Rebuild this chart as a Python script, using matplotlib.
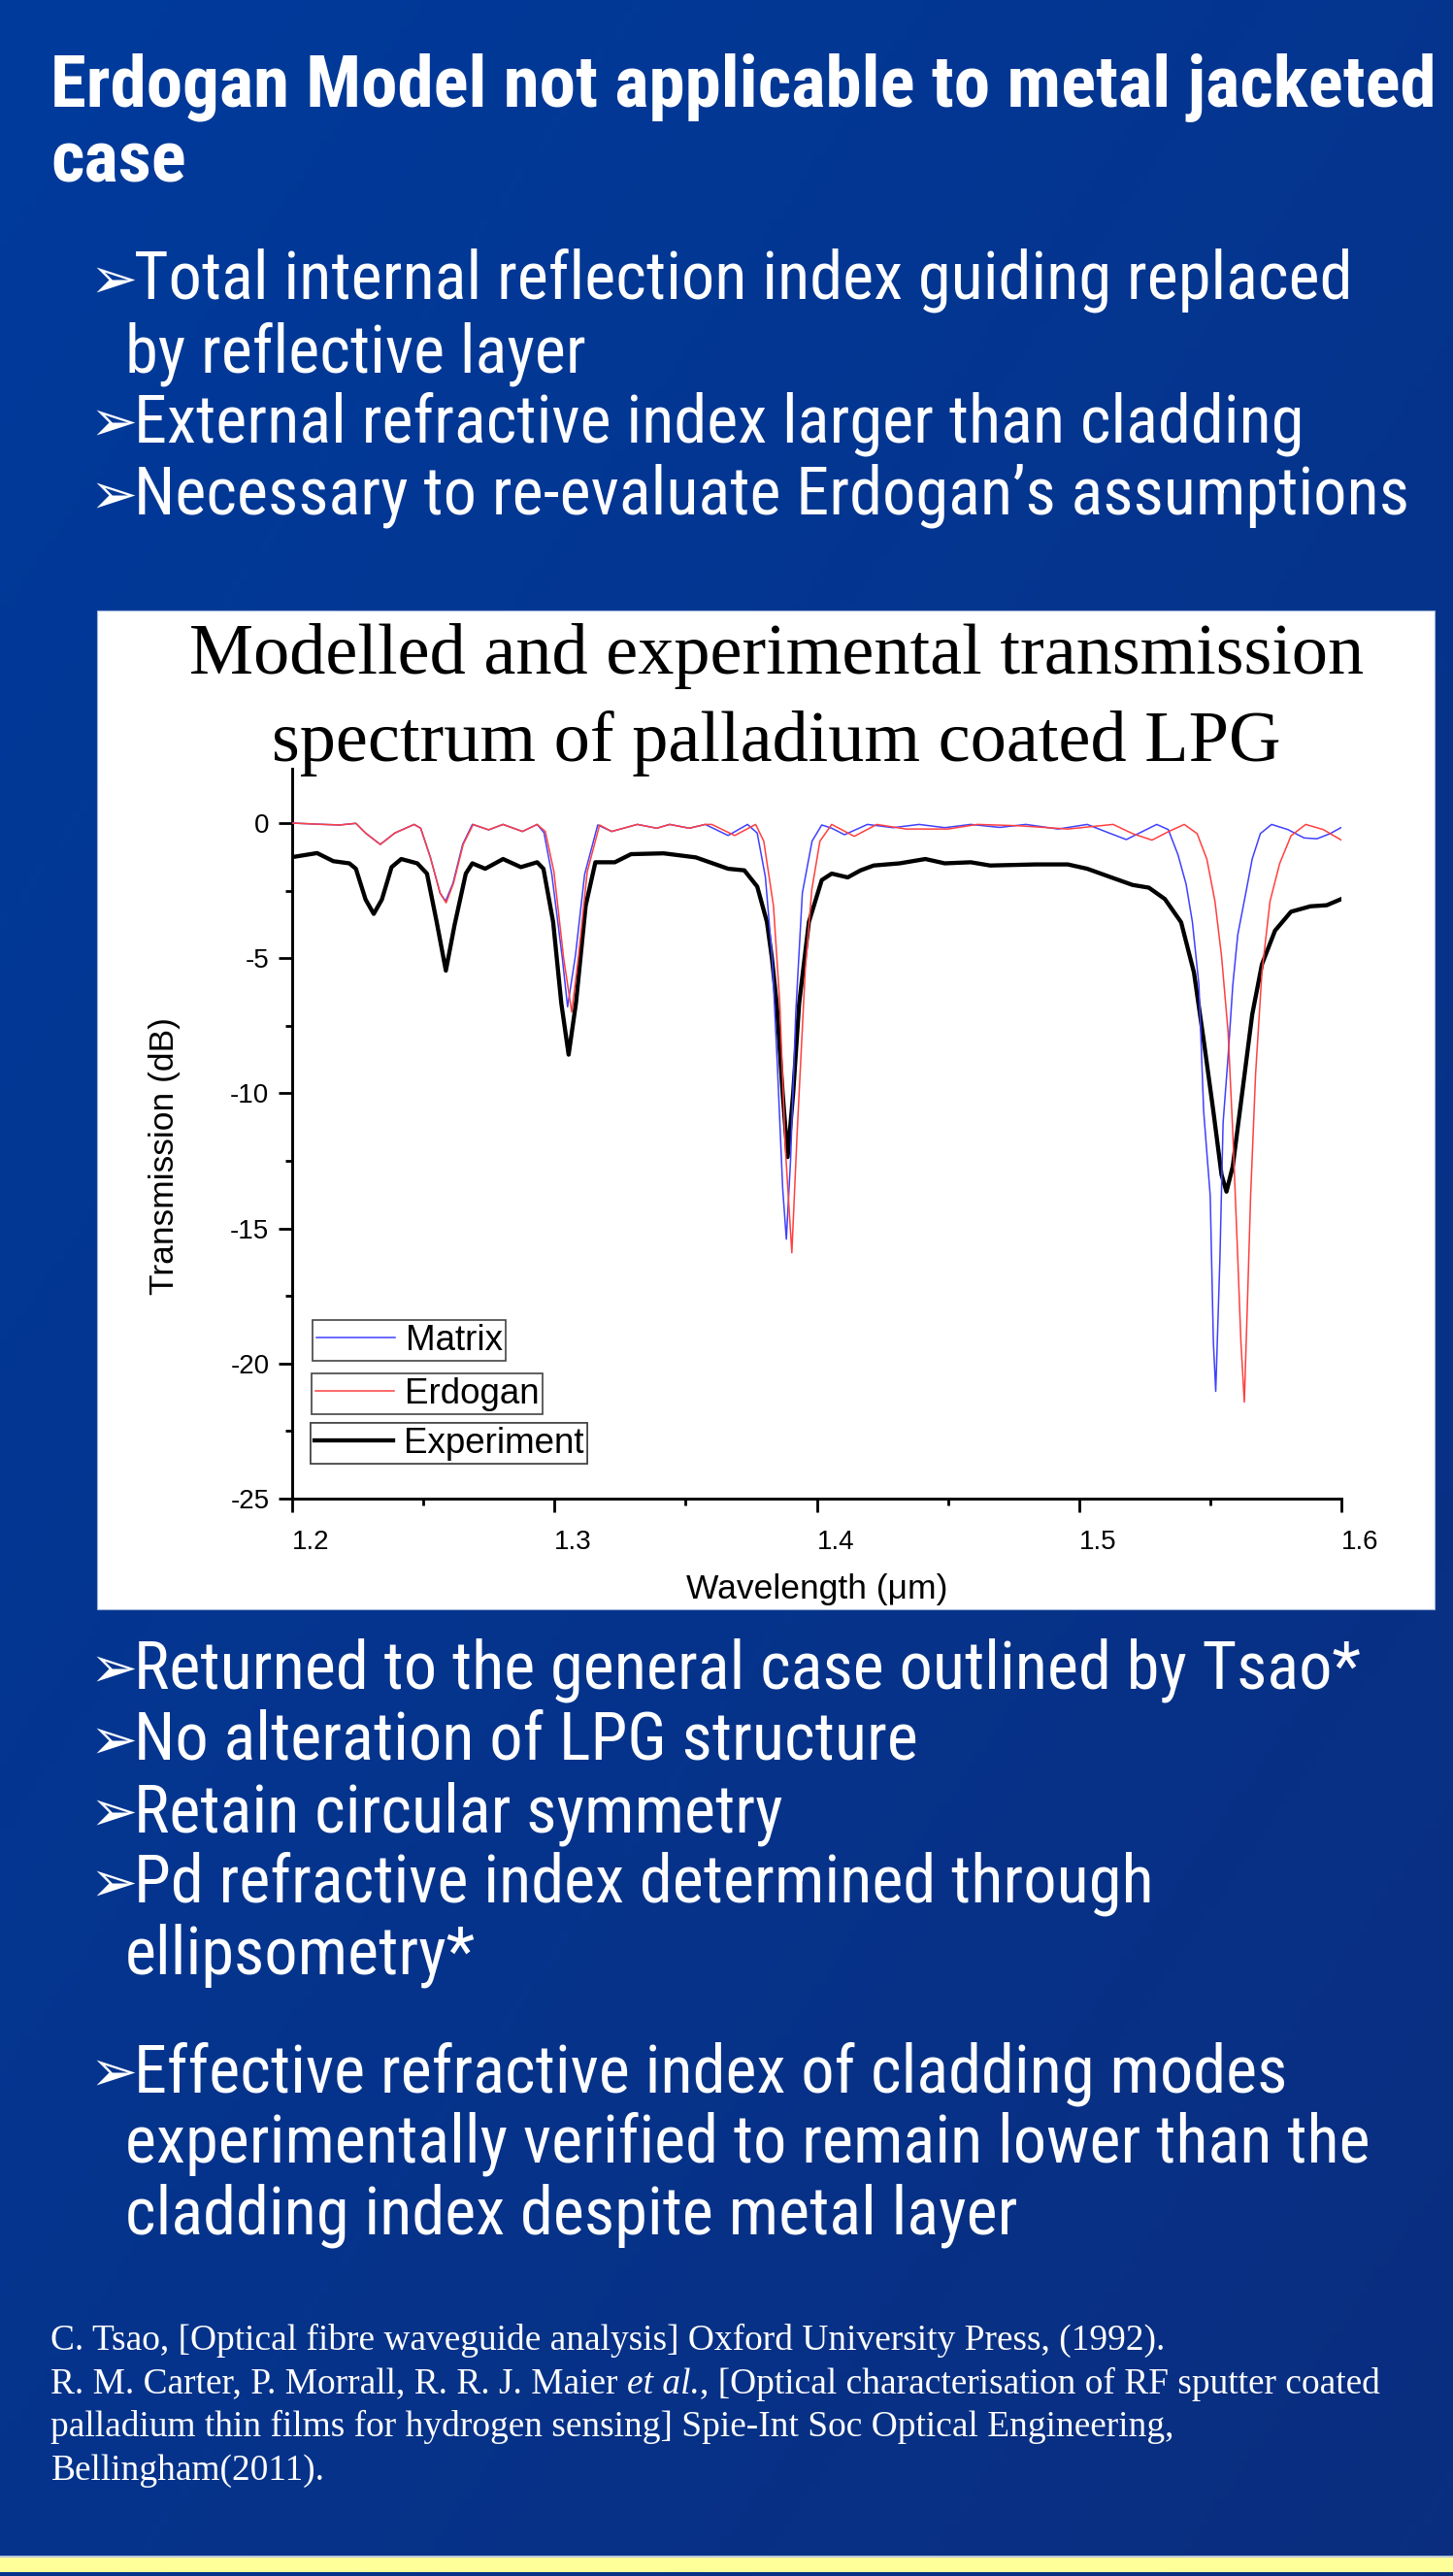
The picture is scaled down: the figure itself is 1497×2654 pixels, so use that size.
import numpy as np
import matplotlib
matplotlib.use("Agg")
import matplotlib.pyplot as plt
from matplotlib import font_manager as fm
from matplotlib.patches import Rectangle
from matplotlib.ticker import MultipleLocator, FixedLocator

# ---------------- data ----------------
wl_matrix = [1.2000, 1.2120, 1.2181, 1.2243, 1.2280, 1.2336, 1.2391, 1.2465, 1.2490, 1.2527,
             1.2564, 1.2585, 1.2613, 1.2650, 1.2687, 1.2749, 1.2804, 1.2878, 1.2934, 1.2960,
             1.2990, 1.3030, 1.3050, 1.3080, 1.3115, 1.3165, 1.3218, 1.3316, 1.3390, 1.3439,
             1.3514, 1.3575, 1.3662, 1.3736, 1.3773, 1.3804, 1.3830, 1.3850, 1.3870, 1.3884,
             1.3900, 1.3920, 1.3945, 1.3982, 1.4019, 1.4057, 1.4106, 1.4193, 1.4291, 1.4390,
             1.4488, 1.4587, 1.4698, 1.4797, 1.4920, 1.5031, 1.5110, 1.5180, 1.5240, 1.5296,
             1.5340, 1.5377, 1.5408, 1.5432, 1.5457, 1.5475, 1.5500, 1.5512, 1.5521, 1.5537,
             1.5549, 1.5568, 1.5586, 1.5605, 1.5636, 1.5660, 1.5691, 1.5734, 1.5796, 1.5858,
             1.5907, 1.5957, 1.6000]
tr_matrix = [0.00, -0.05, -0.07, -0.01, -0.37, -0.79, -0.37, -0.05, -0.19, -1.27,
             -2.59, -2.89, -2.23, -0.79, -0.05, -0.25, -0.05, -0.31, -0.05, -0.35,
             -1.90, -5.00, -6.80, -4.90, -1.90, -0.07, -0.31, -0.05, -0.19, -0.05,
             -0.19, -0.05, -0.46, -0.05, -0.37, -1.99, -5.00, -9.00, -13.50, -15.40,
             -12.50, -7.00, -2.59, -0.67, -0.07, -0.19, -0.43, -0.05, -0.17, -0.05,
             -0.17, -0.05, -0.16, -0.05, -0.22, -0.05, -0.35, -0.61, -0.32, -0.05,
             -0.24, -1.17, -2.26, -3.66, -6.00, -10.67, -13.80, -19.20, -21.03, -16.10,
             -11.10, -8.65, -6.00, -4.13, -2.57, -1.33, -0.39, -0.05, -0.24, -0.55,
             -0.58, -0.39, -0.16]

wl_erdogan = [1.2000, 1.2120, 1.2181, 1.2243, 1.2280, 1.2336, 1.2391, 1.2465, 1.2490, 1.2527,
              1.2564, 1.2587, 1.2615, 1.2652, 1.2690, 1.2749, 1.2804, 1.2878, 1.2934, 1.2965,
              1.2998, 1.3035, 1.3066, 1.3092, 1.3125, 1.3172, 1.3218, 1.3316, 1.3390, 1.3439,
              1.3514, 1.3575, 1.3600, 1.3687, 1.3767, 1.3798, 1.3835, 1.3859, 1.3880, 1.3905,
              1.3925, 1.3956, 1.3981, 1.4012, 1.4057, 1.4143, 1.4229, 1.4340, 1.4500, 1.4612,
              1.4772, 1.4957, 1.5130, 1.5204, 1.5278, 1.5340, 1.5401, 1.5450, 1.5487, 1.5518,
              1.5543, 1.5568, 1.5586, 1.5605, 1.5617, 1.5630, 1.5642, 1.5654, 1.5673, 1.5697,
              1.5728, 1.5765, 1.5808, 1.5864, 1.5931, 1.6000]
tr_erdogan = [0.00, -0.05, -0.07, -0.01, -0.37, -0.79, -0.37, -0.05, -0.19, -1.27,
              -2.59, -2.95, -2.23, -0.79, -0.05, -0.25, -0.05, -0.31, -0.05, -0.31,
              -1.80, -5.00, -7.00, -4.90, -1.80, -0.07, -0.31, -0.05, -0.19, -0.05,
              -0.19, -0.05, -0.05, -0.46, -0.05, -0.67, -3.07, -6.66, -12.00, -15.90,
              -11.50, -5.46, -2.47, -0.67, -0.05, -0.49, -0.05, -0.22, -0.22, -0.05,
              -0.10, -0.22, -0.05, -0.39, -0.63, -0.32, -0.05, -0.39, -1.33, -2.89,
              -4.91, -7.72, -11.45, -16.10, -19.20, -21.43, -17.70, -13.80, -9.27, -5.53,
              -2.89, -1.49, -0.47, -0.05, -0.24, -0.63]

wl_experiment = [1.2000, 1.2095, 1.2157, 1.2218, 1.2243, 1.2280, 1.2311, 1.2342, 1.2379, 1.2416,
                 1.2477, 1.2514, 1.2551, 1.2586, 1.2619, 1.2662, 1.2687, 1.2736, 1.2804, 1.2872,
                 1.2934, 1.2958, 1.2995, 1.3026, 1.3054, 1.3082, 1.3119, 1.3156, 1.3230, 1.3292,
                 1.3416, 1.3539, 1.3662, 1.3724, 1.3773, 1.3810, 1.3829, 1.3847, 1.3870, 1.3889,
                 1.3910, 1.3933, 1.3970, 1.4019, 1.4057, 1.4118, 1.4167, 1.4217, 1.4316, 1.4414,
                 1.4488, 1.4587, 1.4661, 1.4834, 1.4957, 1.5031, 1.5117, 1.5204, 1.5266, 1.5327,
                 1.5389, 1.5438, 1.5475, 1.5512, 1.5543, 1.5562, 1.5586, 1.5623, 1.5660, 1.5697,
                 1.5747, 1.5808, 1.5882, 1.5944, 1.6000]
tr_experiment = [-1.26, -1.11, -1.41, -1.49, -1.69, -2.83, -3.36, -2.83, -1.63, -1.33,
                 -1.49, -1.87, -3.66, -5.46, -3.78, -1.87, -1.49, -1.69, -1.33, -1.63,
                 -1.45, -1.69, -3.66, -6.66, -8.57, -6.66, -3.06, -1.45, -1.45, -1.15,
                 -1.12, -1.27, -1.69, -1.75, -2.35, -3.66, -5.00, -6.66, -10.00, -12.36,
                 -10.00, -6.66, -3.66, -2.11, -1.87, -2.01, -1.75, -1.57, -1.49, -1.33,
                 -1.49, -1.45, -1.57, -1.53, -1.53, -1.69, -1.99, -2.29, -2.39, -2.81,
                 -3.67, -5.53, -8.03, -10.67, -13.01, -13.64, -12.70, -9.90, -7.09, -5.23,
                 -3.98, -3.28, -3.08, -3.04, -2.81]

series_labels = ["Matrix", "Erdogan", "Experiment"]
x_ticks = [1.2, 1.3, 1.4, 1.5, 1.6]
x_tick_labels = ["1.2", "1.3", "1.4", "1.5", "1.6"]
y_ticks = [0, -5, -10, -15, -20, -25]
y_tick_labels = ["0", "-5", "-10", "-15", "-20", "-25"]

chart_title = ["Modelled and experimental transmission", "spectrum of palladium coated LPG"]
x_label = "Wavelength (\u03bcm)"
y_label = "Transmission (dB)"

header_lines = ["Erdogan Model not applicable to metal jacketed", "case"]
top_bullets = [("Total internal reflection index guiding replaced", True),
               ("by reflective layer", False),
               ("External refractive index larger than cladding", True),
               ("Necessary to re-evaluate Erdogan\u2019s assumptions", True)]
bottom_bullets = [("Returned to the general case outlined by Tsao*", True),
                  ("No alteration of LPG structure", True),
                  ("Retain circular symmetry", True),
                  ("Pd refractive index determined through", True),
                  ("ellipsometry*", False),
                  ("Effective refractive index of cladding modes", True),
                  ("experimentally verified to remain lower than the", False),
                  ("cladding index despite metal layer", False)]
ref1 = "C. Tsao, [Optical fibre waveguide analysis] Oxford University Press, (1992)."
ref2a = "R. M. Carter, P. Morrall, R. R. J. Maier"
ref2b = "et al."
ref2c = ", [Optical characterisation of RF sputter coated"
ref3 = "palladium thin films for hydrogen sensing] Spie-Int Soc Optical Engineering,"
ref4 = "Bellingham(2011)."

# ---------------- figure ----------------
W, H = 1497, 2654
DPI = 100
fig = plt.figure(figsize=(W / DPI, H / DPI), dpi=DPI)
renderer = fig.canvas.get_renderer()


def fx(px):
    return px / W


def fy(py):
    return 1 - py / H


# background gradient
bg = fig.add_axes([0, 0, 1, 1], zorder=-10)
bg.set_axis_off()
g = np.linspace(0, 1, 200)
GX, GY = np.meshgrid(g, g)
tt = 0.45 * GX + 0.55 * GY
c0 = np.array([0.00, 0.23, 0.61])
c1 = np.array([0.04, 0.18, 0.50])
img = c0[None, None, :] + (c1 - c0)[None, None, :] * tt[..., None]
bg.imshow(img, extent=[0, 1, 0, 1], aspect="auto", origin="upper")
bg.set_xlim(0, 1)
bg.set_ylim(0, 1)

# white chart panel
fig.patches.append(Rectangle((fx(100), fy(1658)), fx(1478) - fx(100), fy(629) - fy(1658),
                             transform=fig.transFigure, facecolor="white",
                             edgecolor="#9fb4d8", lw=0.8, zorder=-5))
# yellow strip
fig.patches.append(Rectangle((0, fy(2650)), 1, fy(2634) - fy(2650),
                             transform=fig.transFigure, facecolor="#ffff99",
                             edgecolor="none", zorder=-5))
fig.patches.append(Rectangle((0, fy(2634.5)), 1, fy(2633) - fy(2634.5),
                             transform=fig.transFigure, facecolor="#b8c6dc",
                             edgecolor="none", zorder=-5))

# ---------------- chart ----------------
ax_l, ax_r = 301, 1382
y_top_val = 2.0
px_per_db = (1544 - 848) / 25.0
ax_top_px = 848 - y_top_val * px_per_db
ax = fig.add_axes([fx(ax_l), fy(1544), fx(ax_r) - fx(ax_l), fy(ax_top_px) - fy(1544)])
ax.patch.set_alpha(0)

BLUE = "#4040ff"
RED = "#ff4040"
l_m, = ax.plot(wl_matrix, tr_matrix, color=BLUE, lw=1.1, label=series_labels[0], zorder=3)
l_e, = ax.plot(wl_erdogan, tr_erdogan, color=RED, lw=1.1, label=series_labels[1], zorder=4)
l_x, = ax.plot(wl_experiment, tr_experiment, color="black", lw=3.1, label=series_labels[2], zorder=2)

ax.set_xlim(1.2, 1.6)
ax.set_ylim(-25, y_top_val)
for s in ["top", "right"]:
    ax.spines[s].set_visible(False)
for s in ["left", "bottom"]:
    ax.spines[s].set_linewidth(2.1)

ax.xaxis.set_major_locator(FixedLocator(x_ticks))
ax.xaxis.set_minor_locator(MultipleLocator(0.05))
ax.yaxis.set_major_locator(FixedLocator(y_ticks))
ax.yaxis.set_minor_locator(FixedLocator([-2.5, -7.5, -12.5, -17.5, -22.5]))
ax.set_xticklabels(x_tick_labels)
ax.set_yticklabels(y_tick_labels)
ax.tick_params(which="major", direction="out", length=10, width=2.0, labelsize=20, colors="black")
ax.tick_params(which="minor", direction="out", length=5, width=2.0)
ax.tick_params(axis="x", which="major", pad=13)
ax.tick_params(axis="y", which="major", pad=7)
for lab in ax.get_xticklabels():
    lab.set_ha("left")
    lab.set_family("Liberation Sans")
for lab in ax.get_yticklabels():
    lab.set_family("Liberation Sans")

ax.set_xlabel(x_label, fontsize=25.5, family="Liberation Sans", va="center")
ax.set_ylabel(y_label, fontsize=25.5, family="Liberation Sans", va="center")
ax_h_px = 1544 - ax_top_px
ax.xaxis.set_label_coords(0.5, -(1638 - 1544) / ax_h_px)
ax.yaxis.set_label_coords((170 - ax_l) / (ax_r - ax_l), (1544 - 1191) / ax_h_px)

# legends: three separate boxes
leg_pos = [(322, 1360), (321, 1415), (320, 1466)]
for (px, py), handle, lab in zip(leg_pos, [l_m, l_e, l_x], series_labels):
    leg = ax.legend([handle], [lab], loc="upper left", bbox_to_anchor=(fx(px), fy(py)),
                    bbox_transform=fig.transFigure, frameon=True, fancybox=False,
                    framealpha=1, edgecolor="#444444", borderpad=0.1, borderaxespad=0,
                    handlelength=2.2, handletextpad=0.3,
                    prop={"family": "Liberation Sans", "size": 26.5})
    leg.get_frame().set_linewidth(1.2)
    ax.add_artist(leg)

# chart title
t1 = fig.text(fx(800), fy(694), chart_title[0], ha="center", va="baseline",
              family="Liberation Serif", fontsize=48, color="black")
w1 = t1.get_window_extent(renderer=renderer).width
size_title = 48 * 1209 / w1
t1.set_fontsize(size_title)
fig.text(fx(800), fy(784), chart_title[1], ha="center", va="baseline",
         family="Liberation Serif", fontsize=size_title, color="black")

# ---------------- slide text ----------------
def pick_narrow():
    entries = fm.fontManager.ttflist
    names = {f.name for f in entries}
    for fam in ["Liberation Sans Narrow", "Roboto Condensed", "Open Sans Condensed"]:
        if fam in names:
            return fam, "normal"
    for f in entries:
        if f.name == "DejaVu Sans" and str(f.stretch) in ("condensed", "semi-condensed"):
            return "DejaVu Sans", "condensed"
    return "Lato", "normal"


NARROW, STRETCH = pick_narrow()


def fitted_size(text, target, weight="normal", family=None, stretch=None, style="normal"):
    fam = family or NARROW
    st = stretch or STRETCH
    probe = fig.text(0, 0, text, fontsize=40, family=fam, fontstretch=st, weight=weight, style=style)
    w = probe.get_window_extent(renderer=renderer).width
    probe.remove()
    return 40 * target / w


# header
hs = fitted_size(header_lines[0], 1427, weight="bold")
for txt, base in zip(header_lines, [110, 187.5]):
    fig.text(fx(52.5), fy(base), txt, ha="left", va="baseline", color="white",
             family=NARROW, fontstretch=STRETCH, weight="bold", fontsize=hs)

bs = fitted_size(top_bullets[3][0], 1312)

ARROW = "\u27a2"
arrow_size = bs * 0.86


def draw_bullets(items, baselines):
    for (txt, arrow), base in zip(items, baselines):
        if arrow:
            fig.text(fx(92), fy(base - 1), ARROW, ha="left", va="baseline", color="white",
                     family="DejaVu Sans", fontsize=arrow_size)
            fig.text(fx(138.5), fy(base), txt, ha="left", va="baseline", color="white",
                     family=NARROW, fontstretch=STRETCH, fontsize=bs)
        else:
            fig.text(fx(129), fy(base), txt, ha="left", va="baseline", color="white",
                     family=NARROW, fontstretch=STRETCH, fontsize=bs)


draw_bullets(top_bullets, [308, 383, 455, 530])
draw_bullets(bottom_bullets, [1739, 1812.5, 1887, 1960, 2033.5, 2155, 2228, 2301])

# references
rs = fitted_size(ref1, 1146, family="Liberation Serif", stretch="normal")
ref_kw = dict(ha="left", va="baseline", color="white", family="Liberation Serif", fontsize=rs)
fig.text(fx(52.5), fy(2420.7), ref1, **ref_kw)
ta = fig.text(fx(52.5), fy(2465.7), ref2a, **ref_kw)
wa = ta.get_window_extent(renderer=renderer).width
sp_probe = fig.text(0, 0, "a a", **ref_kw)
sp_probe2 = fig.text(0, 0, "aa", **ref_kw)
space_w = sp_probe.get_window_extent(renderer=renderer).width - sp_probe2.get_window_extent(renderer=renderer).width
sp_probe.remove()
sp_probe2.remove()
x2 = 52.5 + wa + space_w
tb = fig.text(fx(x2), fy(2465.7), ref2b, style="italic", **ref_kw)
wb = tb.get_window_extent(renderer=renderer).width
fig.text(fx(x2 + wb), fy(2465.7), ref2c, **ref_kw)
fig.text(fx(52.5), fy(2510), ref3, **ref_kw)
fig.text(fx(52.5), fy(2555), ref4, **ref_kw)

fig.savefig("out.png", dpi=DPI)
